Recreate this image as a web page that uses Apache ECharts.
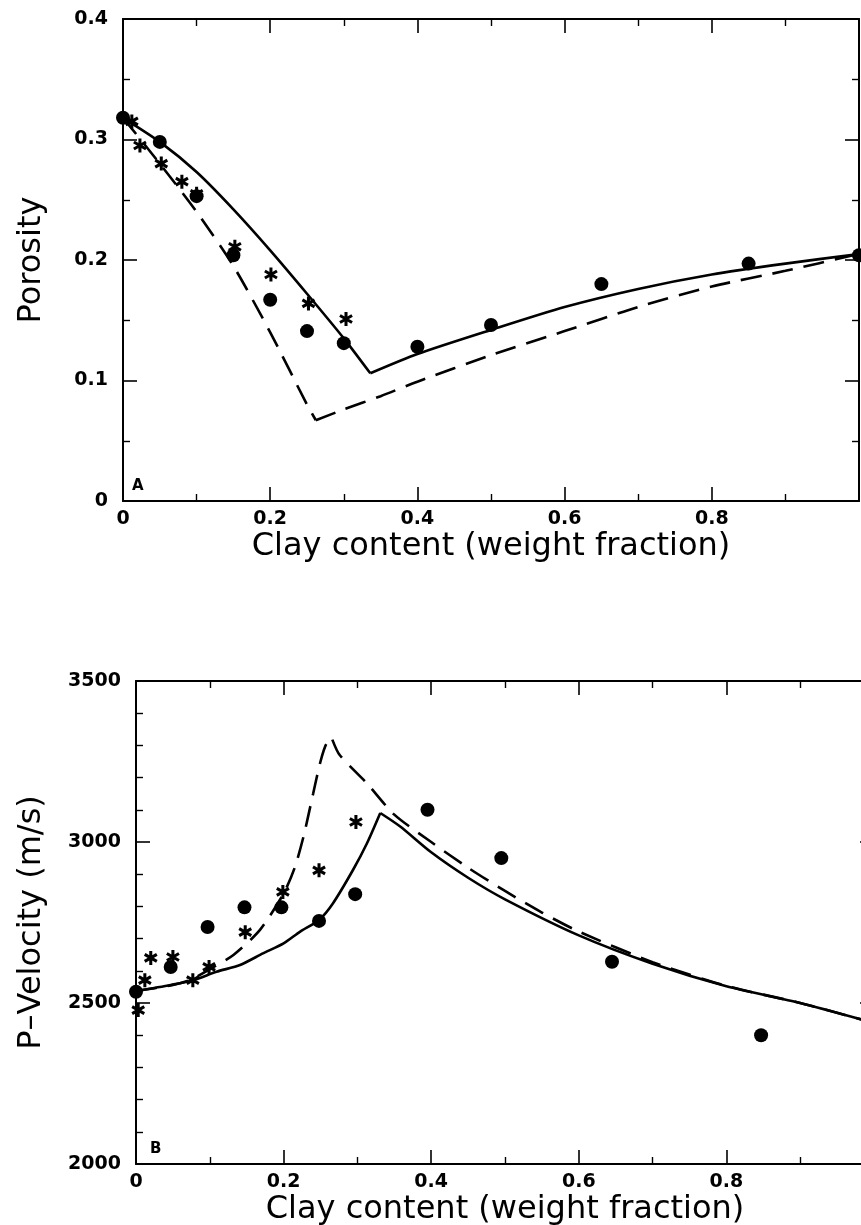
<!DOCTYPE html>
<html>
<head>
<meta charset="utf-8">
<script src="https://cdn.jsdelivr.net/npm/echarts@6/dist/echarts.min.js"></script>
<style>
html,body{margin:0;padding:0;background:#fff;}
#chart{width:861px;height:1225px;}
</style>
</head>
<body>
<div id="chart"></div>
<script>
// ---- Panel A: Porosity ----
var porosityDotX = [0, 0.05, 0.1, 0.15, 0.2, 0.25, 0.3, 0.4, 0.5, 0.65, 0.85, 1.0];
var porosityDotY = [0.318, 0.298, 0.253, 0.204, 0.167, 0.141, 0.131, 0.128, 0.146, 0.180, 0.197, 0.204];
var porosityStarX = [0.012, 0.023, 0.052, 0.08, 0.1, 0.152, 0.201, 0.252, 0.303];
var porosityStarY = [0.315, 0.295, 0.280, 0.265, 0.255, 0.211, 0.188, 0.164, 0.151];
var porositySolidX = [0, 0.05, 0.1, 0.15, 0.2, 0.25, 0.3, 0.336, 0.4, 0.5, 0.6, 0.7, 0.8, 0.9, 1.0];
var porositySolidY = [0.318, 0.298, 0.273, 0.242, 0.208, 0.172, 0.135, 0.106, 0.122, 0.142, 0.161, 0.176, 0.188, 0.197, 0.205];
var porosityDashX = [0, 0.05, 0.1, 0.15, 0.2, 0.25, 0.262, 0.3, 0.35, 0.4, 0.5, 0.6, 0.7, 0.8, 0.9, 1.0];
var porosityDashY = [0.318, 0.280, 0.240, 0.195, 0.140, 0.080, 0.067, 0.076, 0.087, 0.099, 0.121, 0.141, 0.161, 0.178, 0.191, 0.205];
var porositySolidKink = 7;
var porosityDashKink = 6;

// ---- Panel B: P-Velocity ----
var velDotX = [0, 0.047, 0.097, 0.147, 0.197, 0.248, 0.297, 0.395, 0.495, 0.645, 0.847];
var velDotY = [2535, 2612, 2736, 2797, 2797, 2755, 2838, 3100, 2950, 2628, 2400];
var velStarX = [0.003, 0.012, 0.02, 0.05, 0.077, 0.099, 0.148, 0.199, 0.248, 0.298];
var velStarY = [2478, 2571, 2640, 2643, 2571, 2612, 2720, 2845, 2912, 3062];
var velSolidX = [0, 0.047, 0.078, 0.109, 0.141, 0.172, 0.2, 0.222, 0.248, 0.267, 0.294, 0.313, 0.331, 0.358, 0.4, 0.45, 0.5, 0.6, 0.7, 0.8, 0.9, 1.0];
var velSolidY = [2537, 2556, 2571, 2597, 2618, 2654, 2685, 2721, 2758, 2810, 2913, 2996, 3090, 3048, 2968, 2889, 2822, 2710, 2622, 2552, 2500, 2438];
var velDashX = [0, 0.05, 0.073, 0.1, 0.132, 0.168, 0.2, 0.215, 0.227, 0.24, 0.25, 0.258, 0.266, 0.276, 0.313, 0.35, 0.4, 0.45, 0.5, 0.55, 0.6, 0.7, 0.8, 0.9, 1.0];
var velDashY = [2537, 2556, 2571, 2605, 2649, 2727, 2840, 2920, 3017, 3150, 3250, 3305, 3318, 3270, 3182, 3085, 3000, 2920, 2848, 2781, 2722, 2627, 2553, 2500, 2438];
var velSolidKink = 12;
var velDashKink = 12;

// tick labels
var xTickLabels = {0: '0', 0.2: '0.2', 0.4: '0.4', 0.6: '0.6', 0.8: '0.8'};
var porosityTickLabels = {0: '0', 0.1: '0.1', 0.2: '0.2', 0.3: '0.3', 0.4: '0.4'};
var velTickLabels = {2000: '2000', 2500: '2500', 3000: '3000', 3500: '3500'};

function pairs(xs, ys) { return xs.map(function (x, i) { return [x, ys[i]]; }); }
function lookup(tbl) {
  return function (v) {
    var k = Math.round(v * 1000) / 1000;
    return tbl[k] !== undefined ? tbl[k] : '';
  };
}

var STAR = 'path://M-1.3,-6L1.3,-6L1.3,6L-1.3,6ZM4.546,-4.126L5.846,-1.874L-4.546,4.126L-5.846,1.874ZM-5.846,-1.874L-4.546,-4.126L5.846,1.874L4.546,4.126Z';
var FONT = 'DejaVu Sans';
var INK = '#000';

function baseAxis(extra) {
  var a = {
    axisLine: {show: true, onZero: false, lineStyle: {color: INK, width: 2}},
    axisTick: {show: true, inside: true, length: 14, lineStyle: {color: INK, width: 1.6}},
    minorTick: {show: true, length: 7, lineStyle: {color: INK, width: 1.4}},
    splitLine: {show: false},
    minorSplitLine: {show: false},
    axisLabel: {show: false}
  };
  for (var k in extra) a[k] = extra[k];
  return a;
}

var labelStyle = {color: INK, fontFamily: FONT, fontWeight: 'bold', fontSize: 19};
var nameStyle = {color: INK, fontFamily: FONT, fontSize: 32};

function curve(xs, ys, kink, xi, yi, dashed) {
  var all = pairs(xs, ys);
  var parts = [all.slice(0, kink + 1), all.slice(kink)];
  return parts.map(function (d) {
    return {type: 'line', xAxisIndex: xi, yAxisIndex: yi, data: d, showSymbol: false, symbol: 'none',
      smooth: 0.25,
      lineStyle: {color: INK, width: 2.6, type: dashed ? [21, 11] : 'solid'}};
  });
}

var series = []
  .concat(curve(porositySolidX, porositySolidY, porositySolidKink, 0, 0, false))
  .concat(curve(porosityDashX, porosityDashY, porosityDashKink, 0, 0, true))
  .concat([
    {type: 'scatter', xAxisIndex: 0, yAxisIndex: 0, data: pairs(porosityStarX, porosityStarY), symbol: STAR, symbolSize: 14, symbolKeepAspect: true,
      itemStyle: {color: INK, opacity: 1}},
    {type: 'scatter', xAxisIndex: 0, yAxisIndex: 0, data: pairs(porosityDotX, porosityDotY), symbol: 'circle', symbolSize: 14,
      itemStyle: {color: INK, opacity: 1}}
  ])
  .concat(curve(velSolidX, velSolidY, velSolidKink, 2, 2, false))
  .concat(curve(velDashX, velDashY, velDashKink, 2, 2, true))
  .concat([
    {type: 'scatter', xAxisIndex: 2, yAxisIndex: 2, data: pairs(velStarX, velStarY), symbol: STAR, symbolSize: 14, symbolKeepAspect: true,
      itemStyle: {color: INK, opacity: 1}},
    {type: 'scatter', xAxisIndex: 2, yAxisIndex: 2, data: pairs(velDotX, velDotY), symbol: 'circle', symbolSize: 14,
      itemStyle: {color: INK, opacity: 1}}
  ]);

var option = {
  backgroundColor: '#fff',
  animation: false,
  grid: [
    {left: 123, top: 19, width: 736, height: 482, outerBoundsMode: 'none', containLabel: false},
    {left: 136, top: 681, width: 738, height: 483, outerBoundsMode: 'none', containLabel: false}
  ],
  xAxis: [
    baseAxis({gridIndex: 0, type: 'value', position: 'bottom', min: 0, max: 1, interval: 0.2,
      minorTick: {show: true, splitNumber: 2, length: 7, lineStyle: {color: INK, width: 1.4}},
      axisLabel: Object.assign({show: true, margin: 9, formatter: lookup(xTickLabels)}, labelStyle),
      name: 'Clay content (weight fraction)', nameLocation: 'middle', nameGap: 30, nameTextStyle: nameStyle}),
    baseAxis({gridIndex: 0, type: 'value', position: 'top', min: 0, max: 1, interval: 0.2,
      minorTick: {show: true, splitNumber: 2, length: 7, lineStyle: {color: INK, width: 1.4}}}),
    baseAxis({gridIndex: 1, type: 'value', position: 'bottom', min: 0, max: 1, interval: 0.2,
      minorTick: {show: true, splitNumber: 2, length: 7, lineStyle: {color: INK, width: 1.4}},
      axisLabel: Object.assign({show: true, margin: 9, formatter: lookup(xTickLabels)}, labelStyle),
      name: 'Clay content (weight fraction)', nameLocation: 'middle', nameGap: 30, nameTextStyle: nameStyle}),
    baseAxis({gridIndex: 1, type: 'value', position: 'top', min: 0, max: 1, interval: 0.2,
      minorTick: {show: true, splitNumber: 2, length: 7, lineStyle: {color: INK, width: 1.4}}})
  ],
  yAxis: [
    baseAxis({gridIndex: 0, type: 'value', position: 'left', min: 0, max: 0.4, interval: 0.1,
      minorTick: {show: true, splitNumber: 2, length: 7, lineStyle: {color: INK, width: 1.4}},
      axisLabel: Object.assign({show: true, margin: 15, formatter: lookup(porosityTickLabels)}, labelStyle),
      name: 'Porosity', nameLocation: 'middle', nameGap: 75, nameRotate: 90, nameTextStyle: nameStyle}),
    baseAxis({gridIndex: 0, type: 'value', position: 'right', min: 0, max: 0.4, interval: 0.1,
      minorTick: {show: true, splitNumber: 2, length: 7, lineStyle: {color: INK, width: 1.4}}}),
    baseAxis({gridIndex: 1, type: 'value', position: 'left', min: 2000, max: 3500, interval: 500,
      minorTick: {show: true, splitNumber: 5, length: 7, lineStyle: {color: INK, width: 1.4}},
      axisLabel: Object.assign({show: true, margin: 15, formatter: lookup(velTickLabels)}, labelStyle),
      name: 'P\u2013Velocity (m/s)', nameLocation: 'middle', nameGap: 88, nameRotate: 90, nameTextStyle: nameStyle}),
    baseAxis({gridIndex: 1, type: 'value', position: 'right', min: 2000, max: 3500, interval: 500,
      minorTick: {show: true, splitNumber: 5, length: 7, lineStyle: {color: INK, width: 1.4}}})
  ],
  graphic: [
    {type: 'text', left: 132, top: 479, style: {text: 'A', fill: INK, font: 'bold 15px "DejaVu Sans"'}},
    {type: 'text', left: 150, top: 1142, style: {text: 'B', fill: INK, font: 'bold 15px "DejaVu Sans"'}}
  ],
  series: series
};

var chart = echarts.init(document.getElementById('chart'), null, {renderer: 'canvas'});
chart.setOption(option);
</script>
</body>
</html>
